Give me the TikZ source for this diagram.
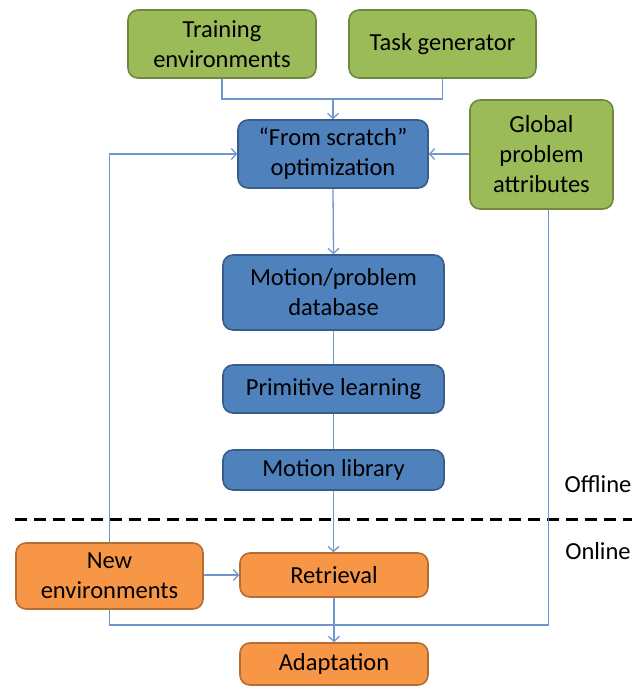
\documentclass[tikz,border=0pt]{standalone}
\usepackage{fontspec}
\setmainfont{Carlito}
\usetikzlibrary{arrows.meta}

\definecolor{greenfill}{RGB}{155,187,89}
\definecolor{greenline}{RGB}{113,137,63}
\definecolor{bluefill}{RGB}{79,129,189}
\definecolor{blueline}{RGB}{56,93,138}
\definecolor{orangefill}{RGB}{247,150,70}
\definecolor{orangeline}{RGB}{182,109,49}
\definecolor{wirecol}{RGB}{112,150,208}

\tikzset{
    box/.style={rounded corners=10pt, line width=1.6pt, inner sep=0pt, align=center,
        font=\fontsize{24.5}{30}\selectfont},
    greenbox/.style={box, fill=greenfill, draw=greenline},
    bluebox/.style={box, fill=bluefill, draw=blueline},
    orangebox/.style={box, fill=orangefill, draw=orangeline},
    wire/.style={draw=wirecol, line width=1.3pt},
    >={Straight Barb[length=5pt,width=11pt]}
}

\begin{document}
\begin{tikzpicture}[x=1pt, y=-1pt]
            \useasboundingbox (0,0) rectangle (639,686);

            % offline part
            \node[greenbox, minimum width=188, minimum height=68] (train) at (222,44) {Training\\environments};
            \node[greenbox, minimum width=187, minimum height=68] (task) at (442.5,44) {Task generator};
            \node[bluebox, minimum width=190, minimum height=68] (scratch) at (333,154) {``From scratch''\\optimization};
            \node[greenbox, minimum width=143, minimum height=109] (global) at (541.5,154.5) {Global\\problem\\attributes};
            \node[bluebox, minimum width=221, minimum height=75] (database) at (333.5,292.5) {Motion/problem\\database};
            \node[bluebox, minimum width=221, minimum height=48] (primitive) at (333.5,389) {Primitive learning};
            \node[bluebox, minimum width=221, minimum height=40] (library) at (333.5,470) {Motion library};

            % online part
            \node[orangebox, minimum width=187, minimum height=66] (newenv) at (109.5,576) {New\\environments};
            \node[orangebox, minimum width=188, minimum height=44] (retrieval) at (334,575) {Retrieval};
            \node[orangebox, minimum width=188, minimum height=42] (adapt) at (334,664) {Adaptation};

            \draw[line width=3pt, dash pattern=on 12pt off 7pt] (15,519) -- (632,519);
            \node[font=\fontsize{24.5}{30}\selectfont] (offline) at (598,484) {Offline};
            \node[font=\fontsize{24.5}{30}\selectfont] (online) at (598,551) {Online};

            \coordinate (merge) at (333,99);
            \coordinate (join) at (333,625);

            \draw[wire] (train.south) |- (merge) -| (task.south);
            \draw[wire,->] (merge) -- (scratch.north);
            \draw[wire,->] (scratch.east -| global.west) -- (scratch.east);
            \draw[wire,->] (newenv.north) |- (scratch.west);
            \draw[wire,->] (scratch.south) -- (database.north);
            \draw[wire] (database.south) -- (primitive.north);
            \draw[wire] (primitive.south) -- (library.north);
            \draw[wire,->] (library.south) -- (library.south |- retrieval.north);
            \draw[wire,->] (newenv.east |- retrieval.west) -- (retrieval.west);
            \draw[wire] (newenv.south) |- (join);
            \draw[wire] ([xshift=7pt]global.south) |- (join);
            \draw[wire,->] (retrieval.south) -- (retrieval.south |- adapt.north);
\end{tikzpicture}
\end{document}
